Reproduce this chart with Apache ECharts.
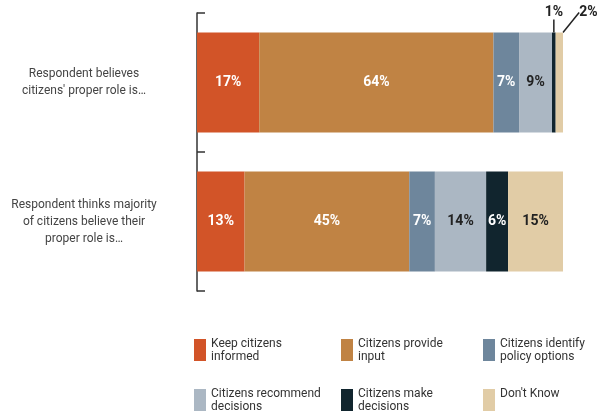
<!DOCTYPE html>
<html>
<head>
<meta charset="utf-8">
<script src="https://cdn.jsdelivr.net/npm/echarts@6/dist/echarts.min.js"></script>
<style>html,body{margin:0;padding:0;background:#fff}#c{width:606px;height:413px}</style>
</head>
<body>
<div id="c"></div>
<script>
const categories = ["Respondent believes\ncitizens' proper role is…", "Respondent thinks majority\nof citizens believe their\nproper role is…"];
const seriesNames = ["Keep citizens informed", "Citizens provide input", "Citizens identify policy options", "Citizens recommend decisions", "Citizens make decisions", "Don't Know"];
const legendTexts = ["Keep citizens\ninformed", "Citizens provide\ninput", "Citizens identify\npolicy options", "Citizens recommend\ndecisions", "Citizens make\ndecisions", "Don't Know\n "];
const keepInformed = [17, 13];
const provideInput = [64, 45];
const identifyOptions = [7, 7];
const recommendDecisions = [9, 14];
const makeDecisions = [1, 6];
const dontKnow = [2, 15];
const values = [keepInformed, provideInput, identifyOptions, recommendDecisions, makeDecisions, dontKnow];

const colors = ['#D25428', '#C08344', '#6E869C', '#ABB7C3', '#11252E', '#E1CCA6'];
const labelColors = ['#fff', '#fff', '#fff', '#222', '#fff', '#222'];
const FONT = "Roboto, 'Liberation Sans', sans-serif";

// outside labels for tiny segments in first bar
const outside = { 4: { dx: 0, dy: -70 }, 5: { dx: 29, dy: -70 } };

const series = values.map((vals, si) => ({
  name: seriesNames[si],
  type: 'bar',
  stack: 'total',
  barWidth: 100,
  itemStyle: { color: colors[si] },
  label: {
    show: true, position: 'inside', formatter: '{c}%',
    color: labelColors[si], fontFamily: FONT, fontWeight: 'bold', fontSize: 14
  },
  labelLayout: outside[si] ? function (p) { return p.dataIndex === 0 ? outside[si] : {}; } : undefined,
  data: vals.map((v, i) => {
    if (outside[si] && i === 0) {
      return {
        value: v,
        label: { color: '#222' },
        labelLine: { show: true, lineStyle: { color: '#222', width: 1.5 } }
      };
    }
    return v;
  })
}));

const legendPos = [[194, 337], [341, 337], [483, 337], [194, 387], [341, 387], [483, 387]];
const legends = seriesNames.map((n, i) => ({
  data: [n],
  left: legendPos[i][0],
  top: legendPos[i][1],
  padding: 0,
  icon: 'rect',
  itemWidth: 12,
  itemHeight: 22,
  selectedMode: false,
  formatter: () => legendTexts[i],
  textStyle: { fontFamily: FONT, fontSize: 12, lineHeight: 13, color: '#333' }
}));

const chart = echarts.init(document.getElementById('c'), null, { renderer: 'canvas' });
chart.setOption({
  animation: false,
  grid: { left: 197, right: 43, top: 13, bottom: 122 },
  xAxis: { type: 'value', min: 0, max: 100, show: false },
  yAxis: {
    type: 'category', data: categories, inverse: true,
    axisLine: { show: true, lineStyle: { color: '#333', width: 1.5 } },
    axisTick: { show: true, inside: true, length: 8, lineStyle: { color: '#333', width: 1.5 } },
    axisLabel: { align: 'center', margin: 113, fontFamily: FONT, fontSize: 12, lineHeight: 17, color: '#444' },
    splitLine: { show: false }
  },
  legend: legends,
  series: series
});
</script>
</body>
</html>
